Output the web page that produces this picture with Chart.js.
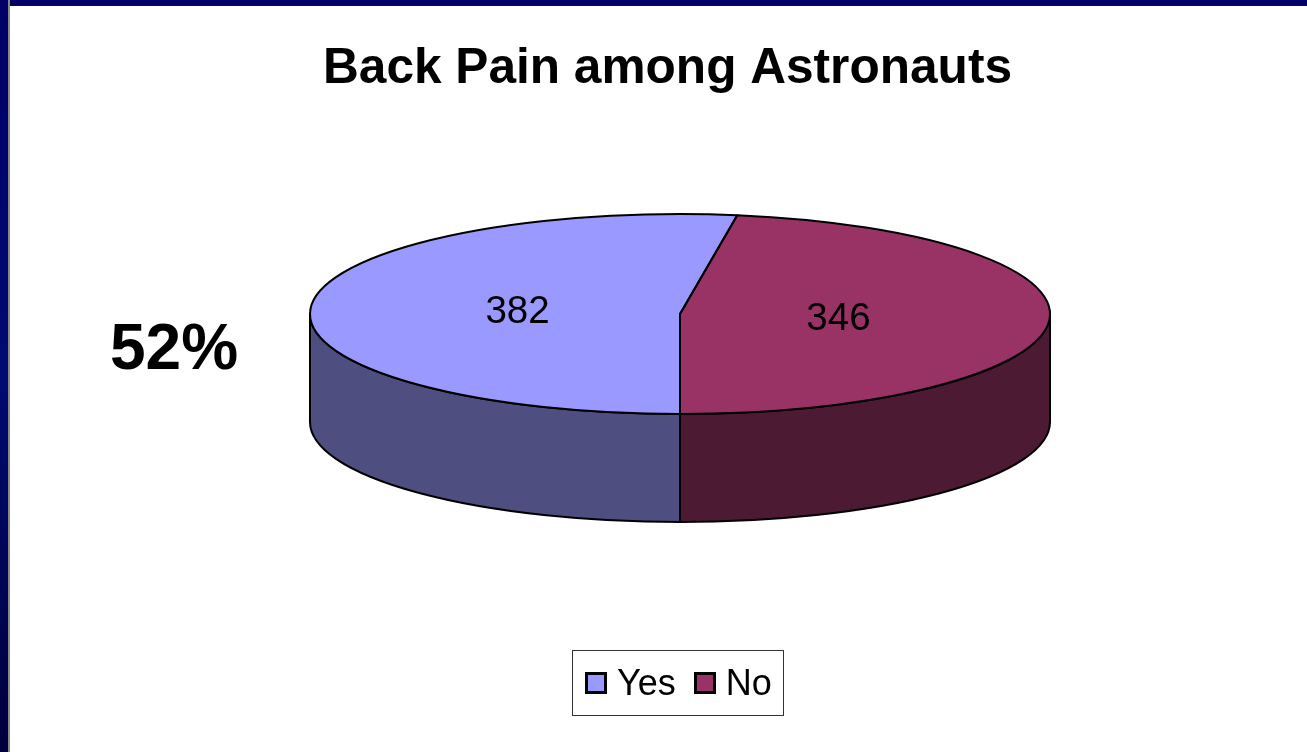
<!DOCTYPE html>
<html>
<head>
<meta charset="utf-8">
<title>Back Pain among Astronauts</title>
<script src="https://cdn.jsdelivr.net/npm/chart.js@4/dist/chart.umd.min.js"></script>
<style>
    html, body { margin: 0; padding: 0; background: #fff; overflow: hidden; }
    body { width: 1307px; height: 752px; position: relative; font-family: "Liberation Sans", Arial, sans-serif; color: #000; }
    #frameTop { position: absolute; left: 0; top: 0; width: 100%; height: 5px; background: #000066; border-bottom: 1px solid #111; }
    #frameLeft { position: absolute; left: 0; top: 0; width: 8px; height: 100%; background: linear-gradient(#000066, #000a70 50%, #00003c); border-right: 2px solid #888; }
    #chartWrap { position: absolute; left: 0; top: 0; width: 1307px; height: 752px; }
    #sideLabel { position: absolute; left: 110px; top: 310px; font-size: 64px; line-height: 74px; font-weight: bold; }
    #legend { position: absolute; left: 572px; top: 650px; width: 210px; height: 64px; border: 1px solid #333; display: flex; align-items: center; font-size: 36px; }
    #legend i { display: block; width: 16px; height: 16px; border: 3px solid #000; margin-left: 12px; margin-right: 10px; }
    #legend i + span + i { margin-left: 18px; margin-right: 10px; }
</style>
</head>
<body>
<div id="frameTop"></div>
<div id="frameLeft"></div>
<div id="chartWrap"><canvas id="painChart"></canvas></div>
<div id="sideLabel">52%</div>
<div id="legend"></div>

<script>
const categories = ['Yes', 'No'];
const counts = [382, 346];
const topColors = ['#9999FF', '#993366'];
const sideColors = ['#4E4E80', '#4D1A33'];

// where the flattened pie sits on the page
const PIE_X = 680, PIE_Y = 314, PIE_RX = 370, PIE_RY = 100, PIE_DEPTH = 108;
const LABEL_POS = 0.435;

// legend is plain html, chart legend can't do the spacing
document.getElementById('legend').innerHTML = categories
    .map((c, i) => `<i style="background:${topColors[i]}"></i><span>${c}</span>`)
    .join('');

function squash(ctx, arc) {
    ctx.translate(PIE_X, PIE_Y);
    ctx.scale(1, PIE_RY / PIE_RX);
    ctx.translate(-arc.x, -arc.y);
}

// draws the wall below the front half of each slice
function drawWalls(ctx, arcs) {
    arcs.forEach((arc, i) => {
        const { startAngle, endAngle } = arc;
        // only the part in the lower half of the ellipse can be seen
        const ranges = [[0, Math.PI], [2 * Math.PI, 3 * Math.PI]];
        ranges.forEach(([lo, hi]) => {
            const a0 = Math.max(startAngle, lo), a1 = Math.min(endAngle, hi);
            if (a1 <= a0) return;
            ctx.beginPath();
            ctx.ellipse(PIE_X, PIE_Y, PIE_RX, PIE_RY, 0, a0, a1);
            ctx.ellipse(PIE_X, PIE_Y + PIE_DEPTH, PIE_RX, PIE_RY, 0, a1, a0, true);
            ctx.closePath();
            ctx.fillStyle = sideColors[i];
            ctx.fill();
            ctx.strokeStyle = '#000';
            ctx.lineWidth = 2;
            ctx.stroke();
        });
    });
}

const pie3d = {
    id: 'pie3d',
    beforeDatasetsDraw(chart) {
        const ctx = chart.ctx;
        const arcs = chart.getDatasetMeta(0).data;
        drawWalls(ctx, arcs);
        ctx.save();
        squash(ctx, arcs[0]);
    },
    afterDatasetsDraw(chart) {
        const ctx = chart.ctx;
        ctx.restore();
        const arcs = chart.getDatasetMeta(0).data;

        // outlines: path under the squash, stroke without it so the line stays even
        arcs.forEach(arc => {
            ctx.save();
            squash(ctx, arc);
            ctx.beginPath();
            ctx.moveTo(arc.x, arc.y);
            ctx.arc(arc.x, arc.y, arc.outerRadius, arc.startAngle, arc.endAngle);
            ctx.closePath();
            ctx.restore();
            ctx.strokeStyle = '#000';
            ctx.lineWidth = 2;
            ctx.lineJoin = 'round';
            ctx.stroke();
        });

        // value labels
        ctx.save();
        ctx.font = '38.5px "Liberation Sans", Arial, sans-serif';
        ctx.fillStyle = '#000';
        ctx.textAlign = 'center';
        ctx.textBaseline = 'middle';
        arcs.forEach((arc, i) => {
            const mid = (arc.startAngle + arc.endAngle) / 2;
            const x = PIE_X - 2 + Math.cos(mid) * PIE_RX * LABEL_POS;
            const y = PIE_Y + 2 + Math.sin(mid) * PIE_RY * LABEL_POS;
            ctx.fillText(String(counts[i]), x, y);
        });
        ctx.restore();
    }
};

new Chart(document.getElementById('painChart').getContext('2d'), {
    type: 'pie',
    data: {
        labels: categories,
        datasets: [{
            data: counts,
            backgroundColor: topColors,
            borderWidth: 0,
            hoverOffset: 0,
            clip: false
        }]
    },
    options: {
        responsive: true,
        maintainAspectRatio: false,
        animation: false,
        rotation: 180,
        radius: PIE_RX,
        layout: { padding: { left: 28 } },
        events: [],
        plugins: {
            legend: { display: false },
            tooltip: { enabled: false },
            title: {
                display: true,
                text: 'Back Pain among Astronauts',
                color: '#000',
                font: { family: '"Liberation Sans", Arial, sans-serif', size: 49.6, weight: 'bold' },
                padding: { top: 40, bottom: 0 }
            }
        }
    },
    plugins: [pie3d]
});
</script>
</body>
</html>
